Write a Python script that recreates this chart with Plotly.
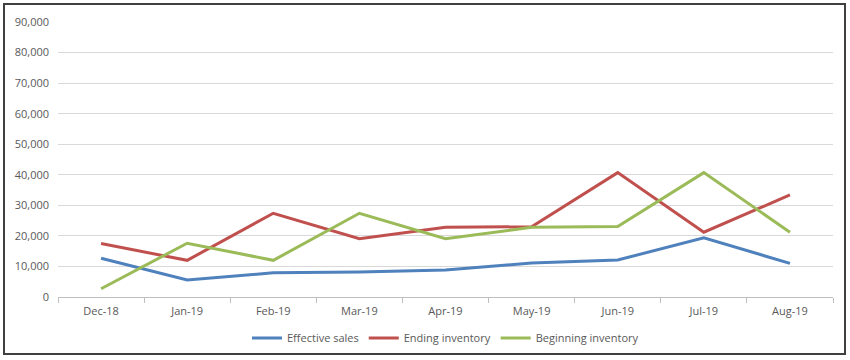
import plotly.graph_objects as go

months = ["Dec-18", "Jan-19", "Feb-19", "Mar-19", "Apr-19", "May-19", "Jun-19", "Jul-19", "Aug-19"]
effective_sales = [12700, 5600, 7900, 8200, 8800, 11100, 12100, 19400, 11000]
ending_inventory = [17500, 12000, 27400, 19100, 22800, 23000, 40700, 21200, 33400]
beginning_inventory = [2700, 17600, 12000, 27400, 19100, 22800, 23100, 40700, 21200]

series = [
    ("Effective sales", effective_sales, "#4F81BD"),
    ("Ending inventory", ending_inventory, "#C0504D"),
    ("Beginning inventory", beginning_inventory, "#9BBB59"),
]

fig = go.Figure()
for name, vals, color in series:
    fig.add_trace(go.Scatter(x=months, y=vals, name=name, mode="lines",
                             line=dict(color=color, width=3)))

L, R, T, B = 58, 17, 22, 63
W, H = 850, 360
pw, ph = W - L - R, H - T - B

def px_x(x):
    return (x - L) / pw

def px_y(y):
    return (H - B - y) / ph

fig.update_layout(
    width=W, height=H,
    margin=dict(l=L, r=R, t=T, b=B, autoexpand=False),
    paper_bgcolor="white", plot_bgcolor="white",
    font=dict(family="Open Sans, Noto Sans, sans-serif", size=11, color="#595959"),
    legend=dict(orientation="h", x=0.5, xanchor="center", y=px_y(338), yanchor="middle",
                font=dict(size=11, color="#595959"), itemwidth=30, tracegroupgap=0),
    xaxis=dict(range=[-0.5, 8.5], showgrid=False, showline=True, linecolor="#BFBFBF", linewidth=1,
               ticks="outside", tickson="boundaries", ticklen=5, tickcolor="#BFBFBF",
               ticklabelstandoff=4,
               tickfont=dict(size=11, color="#595959"), fixedrange=True),
    yaxis=dict(range=[0, 90000], dtick=10000, tickformat=",", showgrid=True,
               gridcolor="#D9D9D9", gridwidth=1, zeroline=False, showline=False,
               ticklabelstandoff=8, tickfont=dict(size=11, color="#595959"), fixedrange=True),
    shapes=[dict(type="rect", xref="paper", yref="paper",
                 x0=px_x(4), x1=px_x(845), y0=px_y(354), y1=px_y(4),
                 line=dict(color="#404040", width=2), fillcolor="rgba(0,0,0,0)", layer="below")],
)

fig.write_html("out.html", config={"displayModeBar": False},
               post_script="document.body.style.margin='0';document.body.style.overflow='hidden';")
